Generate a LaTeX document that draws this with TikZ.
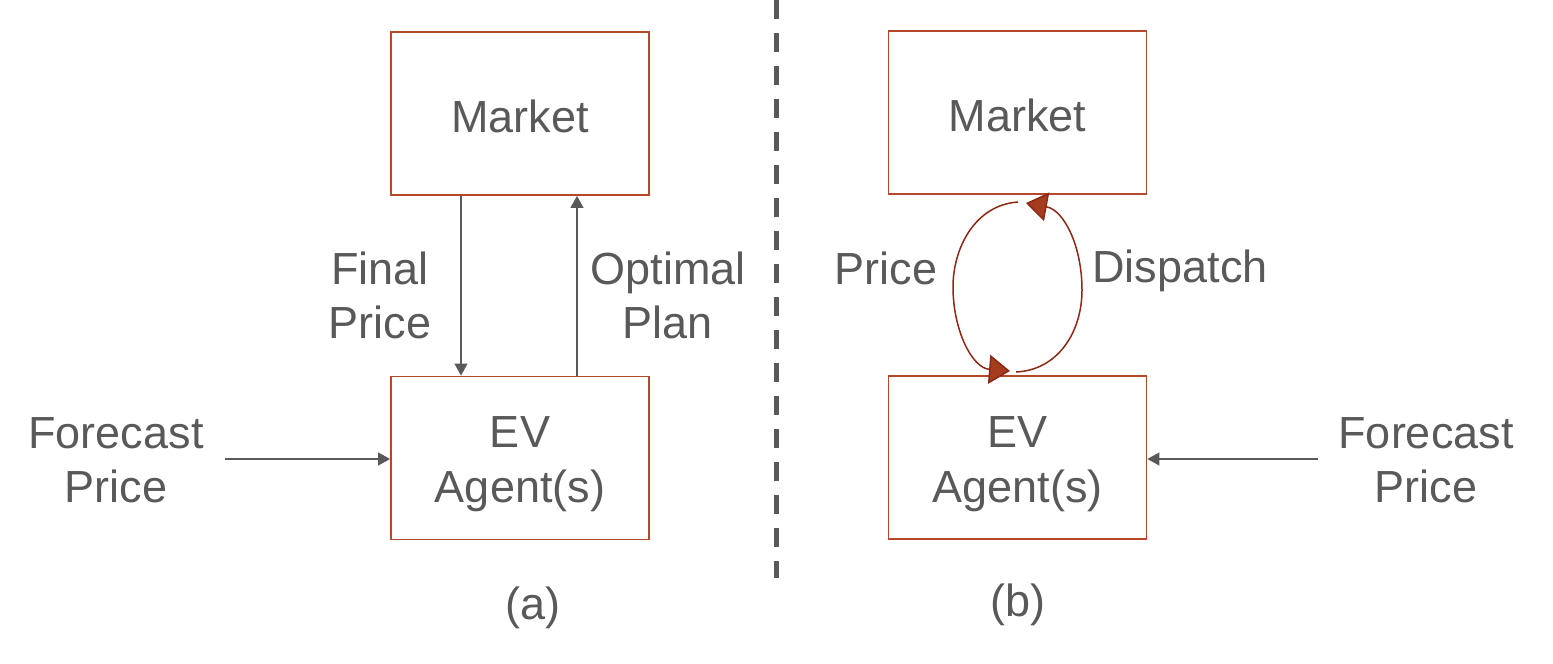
\documentclass[tikz,border=0pt]{standalone}
\usepackage{fontspec}
\setmainfont{Liberation Sans}
\usetikzlibrary{arrows.meta}
\definecolor{txtgray}{RGB}{89,89,89}
\definecolor{boxred}{RGB}{180,72,40}
\definecolor{loopred}{RGB}{140,40,20}
\definecolor{tipred}{RGB}{165,60,30}
\newcommand{\twoline}[2]{\raisebox{-6pt}[\height][\depth]{\begin{tabular}{@{}c@{}}#1\\#2\end{tabular}}}
\newcommand{\oneline}[1]{\raisebox{-3pt}[\height][\depth]{#1}}
\begin{document}
\begin{tikzpicture}[x=1pt,y=-1pt,
  box/.style={draw=boxred,line width=1.8pt,minimum width=258pt,minimum height=163pt,inner sep=0pt,
    text=txtgray,font=\fontsize{45}{55}\selectfont,align=center},
  lbl/.style={text=txtgray,font=\fontsize{45}{54}\selectfont,align=center,inner sep=0pt},
  garrow/.style={draw=txtgray,line width=1.2pt,-{Triangle[length=12pt,width=13pt]}},
  looparrow/.style={draw=loopred,line width=1.5pt,-{Triangle[length=21pt,width=29pt,fill=tipred]}}]
\useasboundingbox (0,0) rectangle (1553,664);
% left panel
\node[box] (mA) at (520,113.5) {\oneline{Market}};
\node[box] (eA) at (520,458) {\twoline{EV}{Agent(s)}};
\node[lbl] (fpA) at (380,295) {Final\\Price};
\node[lbl] (opA) at (668,295) {Optimal\\Plan};
\node[lbl] (fcA) at (116,460) {Forecast\\Price};
\node[lbl] (labA) at (533,608) {(a)};
\coordinate (xd) at (461,0);
\coordinate (xu) at (577,0);
\draw[garrow] (xd |- mA.south) -- (xd |- eA.north);
\draw[garrow] (xu |- eA.north) -- (xu |- mA.south);
\coordinate (fcAend) at (225,459);
\draw[garrow] (fcAend) -- (fcAend -| eA.west);
% divider
\coordinate (d1) at (776,0);
\coordinate (d2) at (776,578);
\draw[txtgray,line width=5pt,dash pattern=on 19pt off 14pt] (d1) -- (d2);
% right panel
\node[box] (mB) at (1017.5,112.5) {\oneline{Market}};
\node[box] (eB) at (1017.5,457.5) {\twoline{EV}{Agent(s)}};
\node[lbl] (prB) at (886,268) {Price};
\node[lbl] (diB) at (1180,271) {Dispatch};
\node[lbl] (fcB) at (1426,460) {Forecast\\Price};
\node[lbl] (labB) at (1018,605) {(b)};
\coordinate (fcBend) at (1318,459);
\draw[garrow] (fcBend) -- (fcBend -| eB.east);
\coordinate (l1) at (1018,202);
\coordinate (l2) at (1010,371);
\coordinate (r1) at (1016,372);
\coordinate (r2) at (1026,203);
\draw[looparrow] (l1) .. controls (975,205) and (953,248) .. (953,287) .. controls (953,330) and (972,368) .. (l2);
\draw[looparrow] (r1) .. controls (1058,370) and (1082,332) .. (1082,290) .. controls (1082,246) and (1064,210) .. (r2);
\end{tikzpicture}
\end{document}
